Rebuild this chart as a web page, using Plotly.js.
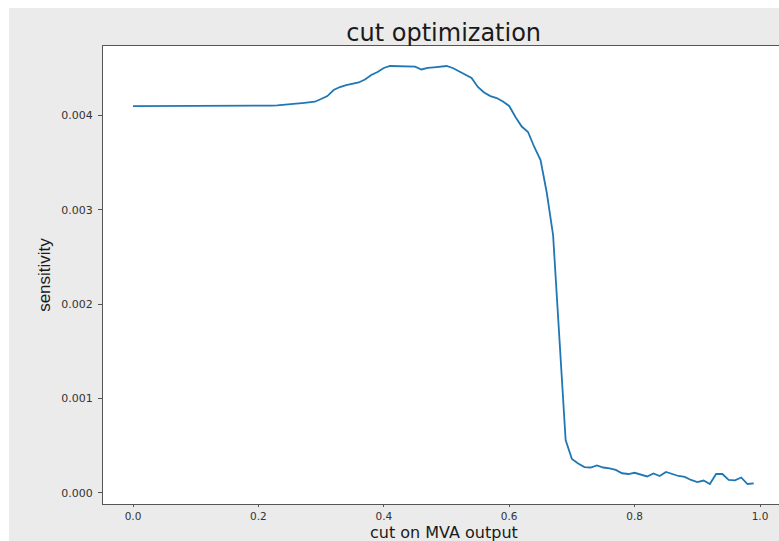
<!DOCTYPE html>
<html>
<head>
<meta charset="utf-8">
<script src="https://cdn.plot.ly/plotly-3.0.1.min.js"></script>
<style>
  html, body { margin: 0; padding: 0; background: #ffffff; }
  #chart { position: absolute; left: 9px; top: 8px; width: 770px; height: 533px; }
</style>
</head>
<body>
<div id="chart"></div>
<script>
// Cut value on the MVA output (0.00 .. 0.99 in steps of 0.01)
const cutValues = Array.from({length: 100}, (_, i) => +(i * 0.01).toFixed(2));

// Sensitivity obtained for each cut value
const sensitivity = [
  0.004100, 0.004100, 0.004100, 0.004100, 0.004100, 0.004100, 0.004100, 0.004100, 0.004100, 0.004100,
  0.004100, 0.004100, 0.004100, 0.004100, 0.004100, 0.004100, 0.004100, 0.004100, 0.004100, 0.004100,
  0.004101, 0.004103, 0.004105, 0.004108, 0.004112, 0.004118, 0.004125, 0.004132, 0.004138, 0.004146,
  0.004175, 0.004206, 0.004270, 0.004302, 0.004323, 0.004339, 0.004350, 0.004382, 0.004429, 0.004461,
  0.004504, 0.004525, 0.004525, 0.004525, 0.004522, 0.004519, 0.004488, 0.004504, 0.004511, 0.004519,
  0.004525, 0.004504, 0.004467, 0.004435, 0.004398, 0.004302, 0.004244, 0.004206, 0.004185, 0.004148,
  0.004101, 0.003984, 0.003883, 0.003825, 0.003666, 0.003528, 0.003178, 0.002731, 0.001619, 0.000559,
  0.000358, 0.000310, 0.000272, 0.000267, 0.000289, 0.000267, 0.000257, 0.000241, 0.000206, 0.000198,
  0.000211, 0.000188, 0.000172, 0.000204, 0.000177, 0.000220, 0.000198, 0.000177, 0.000167, 0.000135,
  0.000113, 0.000129, 0.000092, 0.000198, 0.000198, 0.000135, 0.000131, 0.000161, 0.000092, 0.000098
];

const xTickVals = [0.0, 0.2, 0.4, 0.6, 0.8, 1.0];
const xTickText = ['0.0', '0.2', '0.4', '0.6', '0.8', '1.0'];
const yTickVals = [0.000, 0.001, 0.002, 0.003, 0.004];
const yTickText = ['0.000', '0.001', '0.002', '0.003', '0.004'];

const trace = {
  x: cutValues,
  y: sensitivity,
  type: 'scatter',
  mode: 'lines',
  line: { color: '#1f77b4', width: 1.8 },
  hoverinfo: 'x+y'
};

const layout = {
  width: 770,
  height: 533,
  paper_bgcolor: '#ebebeb',
  plot_bgcolor: '#ffffff',
  margin: { l: 94, r: 0, t: 38, b: 37, pad: 0 },
  showlegend: false,
  title: {
    text: 'cut optimization',
    font: { family: 'DejaVu Sans', size: 24, color: '#1a1a1a' },
    xref: 'paper', x: 0.504, xanchor: 'center',
    yref: 'container', y: 0.953, yanchor: 'middle'
  },
  xaxis: {
    range: [-0.04785, 1.0303],
    tickvals: xTickVals,
    ticktext: xTickText,
    ticks: 'outside', ticklen: 2, tickwidth: 1, tickcolor: '#555555',
    tickfont: { family: 'DejaVu Sans', size: 10.5, color: '#333333' },
    showgrid: false, zeroline: false,
    showline: true, linecolor: '#555555', linewidth: 1, mirror: true,
    automargin: false
  },
  yaxis: {
    range: [-0.000120, 0.004737],
    tickvals: yTickVals,
    ticktext: yTickText,
    ticks: 'outside', ticklen: 4, tickwidth: 1, tickcolor: '#555555',
    tickfont: { family: 'DejaVu Sans', size: 11, color: '#333333' },
    ticklabelstandoff: 3,
    showgrid: false, zeroline: false,
    showline: true, linecolor: '#555555', linewidth: 1,
    automargin: false,
    title: {
      text: 'sensitivity',
      font: { family: 'Liberation Sans', size: 17, color: '#1a1a1a' },
      standoff: 6
    }
  },
  // x-axis caption, placed just under the tick labels
  annotations: [{
    text: 'cut on MVA output',
    xref: 'paper', yref: 'paper',
    x: 0.504, xanchor: 'center',
    y: -0.0622, yanchor: 'middle',
    showarrow: false,
    font: { family: 'DejaVu Sans', size: 16, color: '#1a1a1a' }
  }]
};

Plotly.newPlot('chart', [trace], layout, { displayModeBar: false, staticPlot: true });
</script>
</body>
</html>
